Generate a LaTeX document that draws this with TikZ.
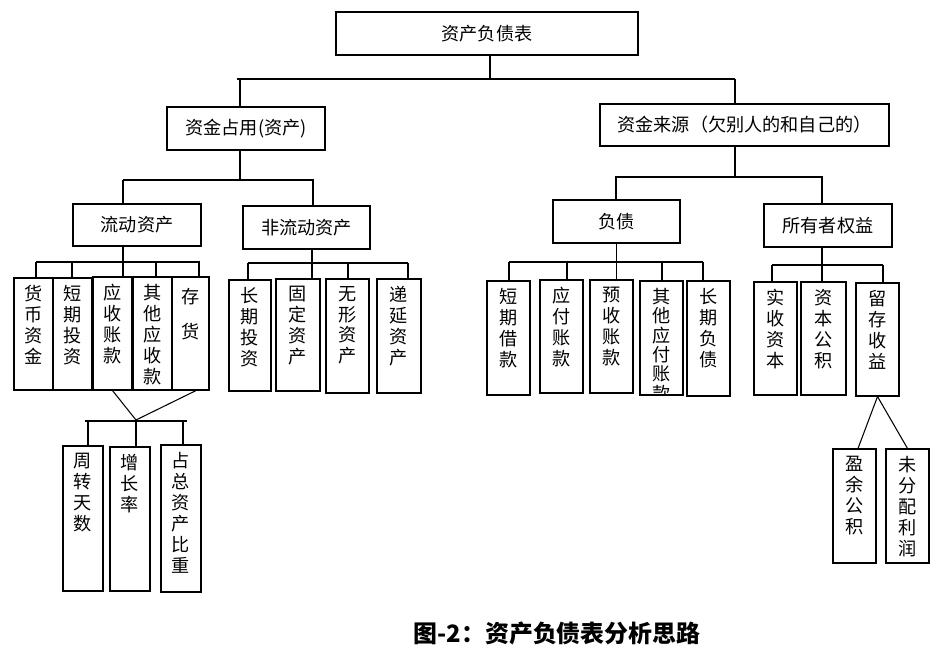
\documentclass[tikz,border=0pt]{standalone}
\usepackage{fontspec}
\setmainfont{Noto Sans CJK SC}
\newlength{\pxu}\setlength{\pxu}{0.025cm}
\newcommand{\vtext}[3]{\parbox[c][#2\pxu][t]{#1\pxu}{\centering\vspace*{5pt}#3}}
\tikzset{
  box/.style = {rectangle, draw=black, line width=0.8pt, inner sep=0pt, font=\fontsize{12.9}{15}\selectfont},
  vcell/.style = {rectangle, draw=black, line width=0.8pt, inner sep=0pt, font=\fontsize{12.9}{14.9}\selectfont},
  link/.style = {line width=0.75pt}
}

\begin{document}
\begin{tikzpicture}[x=0.025cm, y=-0.025cm]
\useasboundingbox (0,0) rectangle (952,665);

% Level 0
\node[box, minimum width=302\pxu, minimum height=43\pxu] (root) at (487,33.5) {资产负债表};

% Level 1
\node[box, minimum width=158\pxu, minimum height=43\pxu] (zy) at (246,128.5) {资金占用(资产)};
\node[box, minimum width=289\pxu, minimum height=42\pxu] (zl) at (744.5,125) {资金来源（欠别人的和自己的）};

% Level 2
\node[box, minimum width=128\pxu, minimum height=42\pxu] (ld) at (137,225) {流动资产};
\node[box, minimum width=127\pxu, minimum height=43\pxu] (fl) at (306.5,227.5) {非流动资产};
\node[box, minimum width=127\pxu, minimum height=43\pxu] (fz) at (616.5,221.5) {负债};
\node[box, minimum width=128\pxu, minimum height=43\pxu] (sy) at (828,225.5) {所有者权益};

% Level 3: current assets
\node[vcell] (a1) at (33.5,334)    {\vtext{39}{112}{货\\币\\资\\金}};
\node[vcell] (a2) at (72.5,334)    {\vtext{39}{112}{短\\期\\投\\资}};
\node[vcell] (a3) at (112.5,333.5) {\vtext{39}{113}{应\\收\\账\\款}};
\node[vcell] (a4) at (152.5,333.5) {\vtext{39}{113}{其\\他\\应\\收\\款}};
\node[vcell] (a5) at (190.5,333.5) {\vtext{37}{113}{\vspace*{4\pxu}存\\[14\pxu]货}};

% Level 3: non-current assets
\node[vcell] (b1) at (250,335.5) {\vtext{42}{111}{长\\期\\投\\资}};
\node[vcell] (b2) at (298,335)   {\vtext{44}{112}{固\\定\\资\\产}};
\node[vcell] (b3) at (347.5,336) {\vtext{43}{114}{无\\形\\资\\产}};
\node[vcell] (b4) at (399,336)   {\vtext{44}{114}{递\\延\\资\\产}};

% Level 3: liabilities
\node[vcell] (c1) at (508.5,338)   {\vtext{43}{114}{短\\期\\借\\款}};
\node[vcell] (c2) at (561.5,336.5) {\vtext{43}{113}{应\\付\\账\\款}};
\node[vcell] (c3) at (611.5,336.5) {\vtext{43}{113}{预\\收\\账\\款}};
\node[vcell, minimum width=43\pxu, minimum height=114\pxu,
  path picture={\node[inner sep=0pt, font=\fontsize{12.9}{13.8}\selectfont] at (path picture bounding box.center) {\vtext{43}{114}{其\\他\\应\\付\\账\\款}};}] (c4) at (661.5,338) {};
\node[vcell] (c5) at (708.5,338.5) {\vtext{43}{115}{长\\期\\负\\债}};

% Level 3: owners' equity
\node[vcell] (d1) at (775.5,338.5) {\vtext{43}{113}{实\\收\\资\\本}};
\node[vcell] (d2) at (823.5,338.5) {\vtext{45}{113}{资\\本\\公\\积}};
\node[vcell] (d3) at (877.5,339.5) {\vtext{43}{113}{留\\存\\收\\益}};

% Level 4
\node[vcell] (e1) at (83,518.5)  {\vtext{40}{145}{周\\转\\天\\数}};
\node[vcell] (e2) at (130,519)   {\vtext{40}{144}{增\\长\\率}};
\node[vcell] (e3) at (181,518.5) {\vtext{40}{147}{占\\总\\资\\产\\比\\重}};
\node[vcell] (g1) at (854.5,506) {\vtext{43}{114}{盈\\余\\公\\积}};
\node[vcell] (g2) at (907.5,506) {\vtext{43}{114}{未\\分\\配\\利\\润}};

% Caption
\node[font=\fontsize{17}{20}\selectfont\bfseries] (cap) at (557,634) {图-2：资产负债表分析思路};

% ----- CONNECTORS -----
% root -> level 1
\coordinate (topL) at (237,79);
\coordinate (topR) at (735,79);
\draw[link] ([xshift=3\pxu]root.south) -- ([xshift=3\pxu]root.south |- topL);
\draw[link] (topL) -- (topR);
\foreach \x/\n in {240/zy, 735/zl} \draw[link] (\x,79) -- (\x,79 |- \n.north);

% assets -> level 2
\coordinate (zyL) at (123,180);
\coordinate (zyR) at (314,180);
\draw[link] ([xshift=-6\pxu]zy.south) -- ([xshift=-6\pxu]zy.south |- zyL);
\draw[link] (zyL) -- (zyR);
\foreach \x/\n in {123/ld, 313/fl} \draw[link] (\x,180) -- (\x,180 |- \n.north);

% sources -> level 2
\coordinate (zlL) at (615,177);
\coordinate (zlR) at (823,177);
\draw[link] ([xshift=-9.5\pxu]zl.south) -- ([xshift=-9.5\pxu]zl.south |- zlL);
\draw[link] (zlL) -- (zlR);
\foreach \x/\n in {616/fz, 822/sy} \draw[link] (\x,177) -- (\x,177 |- \n.north);

% current assets
\coordinate (ldL) at (36,262);
\coordinate (ldR) at (200,262);
\draw[link] ([xshift=-14\pxu]ld.south) -- ([xshift=-14\pxu]ld.south |- a3.north);
\draw[link] (ldL) -- (ldR);
\foreach \x/\n in {36/a1, 72/a2, 156/a4, 199/a5} \draw[link] (\x,262) -- (\x,262 |- \n.north);

% non-current assets
\coordinate (flL) at (248,263);
\coordinate (flR) at (408,263);
\draw[link] ([xshift=5.5\pxu]fl.south) -- ([xshift=5.5\pxu]fl.south |- b2.north);
\draw[link] (flL) -- (flR);
\foreach \x/\n in {248/b1, 348/b3, 408/b4} \draw[link] (\x,263) -- (\x,263 |- \n.north);

% liabilities
\coordinate (fzL) at (509,262);
\coordinate (fzR) at (703,262);
\draw[link] (fz.south) -- (fz.south |- c3.north);
\draw[link] (fzL) -- (fzR);
\foreach \x/\n in {509/c1, 567/c2, 662/c4, 703/c5} \draw[link] (\x,262) -- (\x,262 |- \n.north);

% owners' equity
\coordinate (syL) at (772,265);
\coordinate (syR) at (883,265);
\draw[link] ([xshift=-6\pxu]sy.south) -- ([xshift=-6\pxu]sy.south |- d2.north);
\draw[link] (syL) -- (syR);
\foreach \x/\n in {772/d1, 883/d3} \draw[link] (\x,265) -- (\x,265 |- \n.north);

% indicators
\coordinate (eA) at (136,420);
\coordinate (eL) at (85,421);
\coordinate (eR) at (187,421);
\draw[link] (a3.south) -- (eA) -- ([xshift=5.5\pxu]a5.south);
\draw[link] (eL) -- (eR);
\foreach \x/\n in {88/e1, 136/e2, 183/e3} \draw[link] (\x,421) -- (\x,421 |- \n.north);

% retained earnings
\draw[link] (d3.south) -- ([xshift=3.5\pxu]g1.north);
\draw[link] (d3.south) -- (g2.north);

\end{tikzpicture}
\end{document}
